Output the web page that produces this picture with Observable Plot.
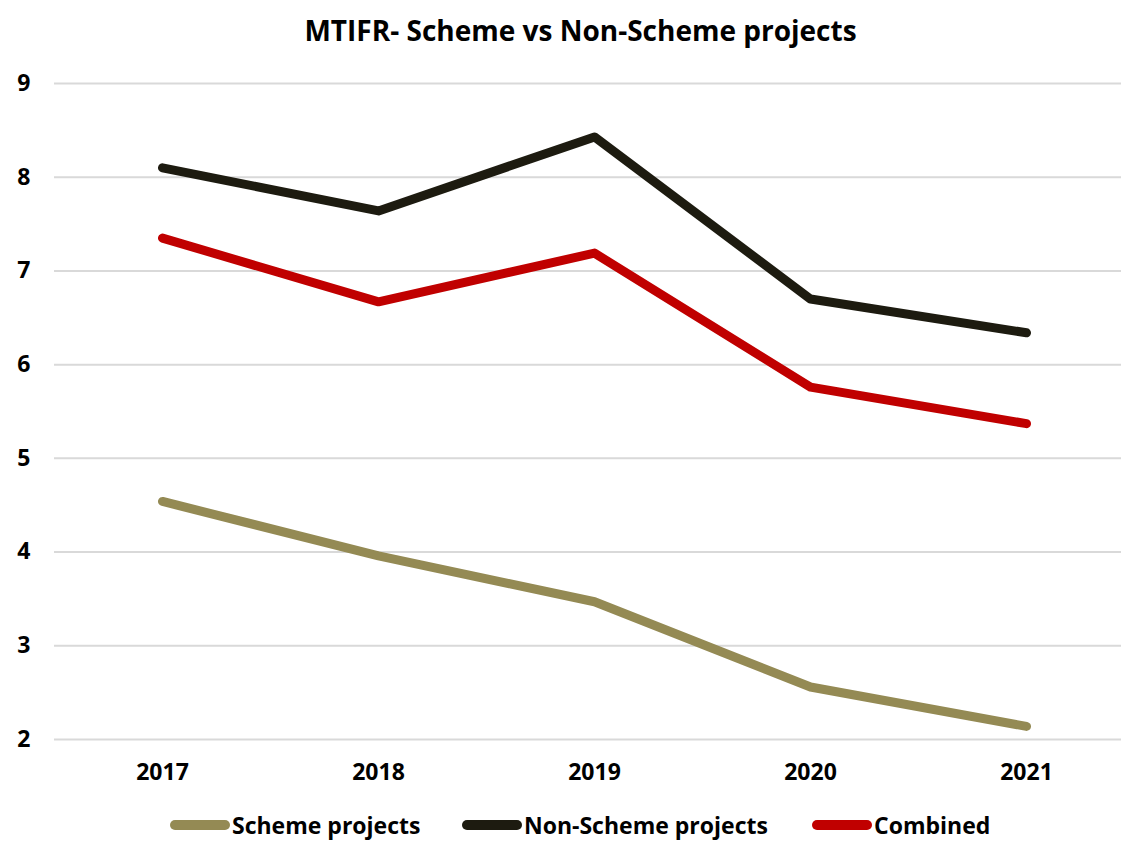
<!DOCTYPE html>
<html>
<head>
<meta charset="utf-8">
<script src="https://cdn.jsdelivr.net/npm/d3@7"></script>
<script src="https://cdn.jsdelivr.net/npm/@observablehq/plot@0.6"></script>
<style>
  html, body { margin: 0; padding: 0; background: #fff; overflow: hidden; }
  body { width: 1121px; height: 843px; font-family: "Open Sans", sans-serif; }
  #title { height: 60px; line-height: 60px; text-align: center; padding-left: 40px; font-weight: 700; font-size: 28px; color: #000; }
  #legend { position: relative; height: 38px; font-weight: 700; font-size: 23px; color: #000; }
  .item { display: flex; align-items: center; position: absolute; top: 5px; line-height: 30px; }
  .sw { width: 60px; height: 10px; border-radius: 5px; margin-right: 2px; }
</style>
</head>
<body>
<div id="title">MTIFR- Scheme vs Non-Scheme projects</div>
<div id="chart"></div>
<div id="legend"></div>
<script>
const years = ["2017", "2018", "2019", "2020", "2021"];
const seriesNames = ["Scheme projects", "Non-Scheme projects", "Combined"];
const schemeValues = [4.54, 3.96, 3.47, 2.56, 2.14];
const nonSchemeValues = [8.10, 7.64, 8.43, 6.70, 6.34];
const combinedValues = [7.35, 6.67, 7.19, 5.76, 5.37];
const seriesColors = ["#948A54", "#1D1B10", "#C00000"];
const yTicks = [2, 3, 4, 5, 6, 7, 8, 9];

const valuesBySeries = [schemeValues, nonSchemeValues, combinedValues];
const data = [];
seriesNames.forEach((s, i) => years.forEach((y, j) => data.push({series: s, year: y, value: valuesBySeries[i][j]})));

const chart = Plot.plot({
  width: 1121,
  height: 745,
  marginLeft: 54,
  marginRight: 0,
  marginTop: 23,
  marginBottom: 66,
  style: { fontFamily: "'Open Sans', sans-serif", fontWeight: 700, fontSize: "23px", color: "#000", background: "#fff" },
  x: { type: "point", domain: years, range: [162, 1026], padding: 0, label: null },
  y: { domain: [2, 9], ticks: yTicks, label: null },
  color: { domain: seriesNames, range: seriesColors },
  marks: [
    Plot.ruleY(yTicks, { stroke: "#d9d9d9", strokeWidth: 2 }),
    Plot.axisY({ ticks: yTicks, tickSize: 0, tickPadding: 24, tickFormat: d3.format("d"), label: null }),
    Plot.axisX({ tickSize: 0, tickPadding: 24, label: null }),
    Plot.line(data, { x: "year", y: "value", z: "series", stroke: "series", strokeWidth: 9, strokeLinecap: "round", strokeLinejoin: "round" })
  ]
});
document.getElementById("chart").appendChild(chart);

const legend = document.getElementById("legend");
const lefts = [170, 462, 812];
seriesNames.forEach((s, i) => {
  const it = document.createElement("div");
  it.className = "item";
  it.style.left = lefts[i] + "px";
  const sw = document.createElement("div");
  sw.className = "sw";
  sw.style.background = seriesColors[i];
  const tx = document.createElement("span");
  tx.textContent = s;
  it.appendChild(sw);
  it.appendChild(tx);
  legend.appendChild(it);
});
</script>
</body>
</html>
